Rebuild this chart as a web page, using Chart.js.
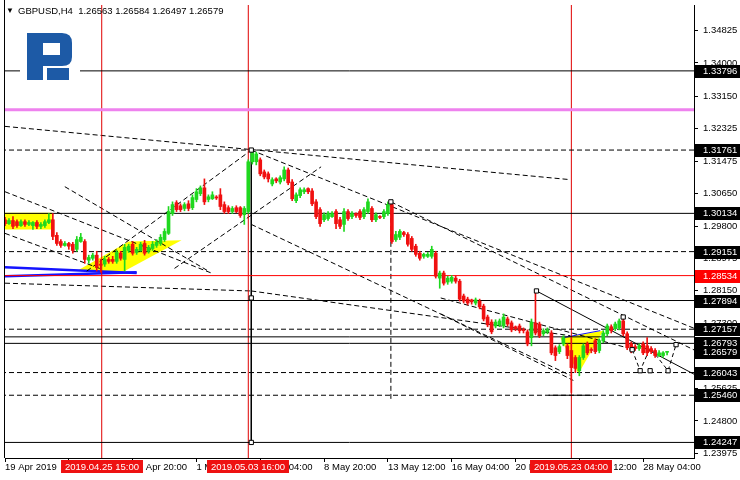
<!DOCTYPE html>
<html>
<head>
<meta charset="utf-8">
<style>
html, body { margin: 0; padding: 0; background: #fff; }
#wrap { width: 740px; height: 480px; }
</style>
<script src="https://cdn.jsdelivr.net/npm/chart.js@4/dist/chart.umd.min.js"></script>
</head>
<body>
<div id="wrap"><canvas id="myChart" width="740" height="480"></canvas></div>
<script>
// GBPUSD H4 candles, first bar = 19 Apr 2019 12:00
var opens = [
  1.2997,1.2987,1.2995,1.2992,1.2982,1.2992,1.2985,1.2982,1.2990,1.2980,
  1.2982,1.2990,1.2997,1.2957,1.2941,1.2931,1.2936,1.2934,1.2921,1.2941,
  1.2941,1.2893,1.2898,1.2906,1.2883,1.2883,1.2895,1.2895,1.2890,1.2911,
  1.2895,1.2918,1.2934,1.2913,1.2918,1.2936,1.2916,1.2923,1.2931,1.2936,
  1.2946,1.2962,1.3013,1.3041,1.3033,1.3026,1.3038,1.3028,1.3049,1.3064,
  1.3079,1.3049,1.3051,1.3054,1.3061,1.3036,1.3028,1.3018,1.3028,1.3028,
  1.3010,1.3018,1.3146,1.3146,1.3151,1.3120,1.3115,1.3089,1.3102,1.3094,
  1.3102,1.3125,1.3094,1.3046,1.3059,1.3069,1.3077,1.3071,1.3043,1.3023,
  1.2997,1.3000,1.3005,1.3018,1.2997,1.2985,1.3018,1.3005,1.3013,1.3018,
  1.3005,1.3018,1.3026,1.2997,1.3005,1.3005,1.3013,1.3036,1.2946,1.2952,
  1.2964,1.2959,1.2949,1.2929,1.2911,1.2903,1.2903,1.2903,1.2911,1.2847,
  1.2860,1.2837,1.2839,1.2847,1.2839,1.2801,1.2793,1.2791,1.2783,1.2788,
  1.2775,1.2747,1.2734,1.2724,1.2727,1.2724,1.2742,1.2732,1.2722,1.2724,
  1.2714,1.2709,1.2694,1.2732,1.2729,1.2704,1.2709,1.2706,1.2668,1.2658,
  1.2678,1.2673,1.2661,1.2643,1.2609,1.2643,1.2678,1.2663,1.2686,1.2661,
  1.2686,1.2704,1.2722,1.2717,1.2719,1.2737,1.2704,1.2678,1.2671,1.2666,
  1.2678,1.2673,1.2666,1.2661,1.2648,1.2648,1.26563
];
var highs = [
  1.3003,1.3000,1.3005,1.2997,1.2997,1.2997,1.2995,1.2992,1.2995,1.2990,
  1.2997,1.3013,1.3013,1.2964,1.2946,1.2941,1.2939,1.2939,1.2954,1.2962,
  1.2946,1.2906,1.2911,1.2916,1.2895,1.2903,1.2900,1.2903,1.2918,1.2916,
  1.2934,1.2934,1.2941,1.2926,1.2939,1.2944,1.2931,1.2941,1.2946,1.2959,
  1.2974,1.3031,1.3043,1.3046,1.3038,1.3041,1.3046,1.3061,1.3077,1.3084,
  1.3102,1.3061,1.3069,1.3059,1.3077,1.3043,1.3033,1.3031,1.3033,1.3031,
  1.3031,1.3151,1.3176,1.3171,1.3156,1.3125,1.3120,1.3105,1.3105,1.3110,
  1.3133,1.3130,1.3100,1.3066,1.3079,1.3079,1.3079,1.3077,1.3049,1.3028,
  1.3015,1.3018,1.3018,1.3023,1.3003,1.3026,1.3023,1.3018,1.3015,1.3023,
  1.3028,1.3051,1.3031,1.3015,1.3008,1.3023,1.3043,1.3046,1.2967,1.2972,
  1.2967,1.2964,1.2954,1.2934,1.2916,1.2911,1.2913,1.2929,1.2916,1.2865,
  1.2865,1.2852,1.2854,1.2852,1.2844,1.2806,1.2798,1.2793,1.2796,1.2793,
  1.2780,1.2752,1.2740,1.2740,1.2742,1.2755,1.2747,1.2737,1.2724,1.2729,
  1.2719,1.2714,1.2742,1.2814,1.2734,1.2717,1.2719,1.2712,1.2673,1.2676,
  1.2699,1.2678,1.2694,1.2648,1.2648,1.2678,1.2683,1.2668,1.2691,1.2691,
  1.2712,1.2729,1.2727,1.2734,1.2742,1.2745,1.2709,1.2683,1.2676,1.2678,
  1.2683,1.2694,1.2671,1.2666,1.2661,1.2658,1.26584
];
var lows = [
  1.2982,1.2985,1.2974,1.2977,1.2980,1.2980,1.2982,1.2972,1.2974,1.2974,
  1.2977,1.2987,1.2946,1.2931,1.2926,1.2929,1.2921,1.2911,1.2916,1.2939,
  1.2885,1.2885,1.2893,1.2865,1.2862,1.2877,1.2885,1.2885,1.2885,1.2893,
  1.2865,1.2913,1.2906,1.2908,1.2916,1.2906,1.2911,1.2918,1.2926,1.2931,
  1.2941,1.2959,1.3008,1.3018,1.3018,1.3020,1.3020,1.3023,1.3043,1.3059,
  1.3036,1.3043,1.3049,1.3049,1.3023,1.3013,1.3013,1.3013,1.3015,1.3003,
  1.2985,1.3013,1.3140,1.3138,1.3110,1.3102,1.3094,1.3084,1.3092,1.3089,
  1.3097,1.3087,1.3046,1.3041,1.3054,1.3064,1.3064,1.3033,1.3000,1.2980,
  1.2992,1.2995,1.3003,1.2974,1.2974,1.2967,1.2995,1.3000,1.3003,1.2997,
  1.3000,1.3013,1.2992,1.2992,1.3000,1.3000,1.3008,1.2936,1.2941,1.2946,
  1.2954,1.2929,1.2916,1.2903,1.2893,1.2898,1.2900,1.2898,1.2847,1.2821,
  1.2829,1.2831,1.2834,1.2834,1.2788,1.2783,1.2778,1.2780,1.2778,1.2768,
  1.2737,1.2722,1.2704,1.2719,1.2722,1.2719,1.2724,1.2709,1.2712,1.2706,
  1.2706,1.2673,1.2673,1.2701,1.2694,1.2699,1.2704,1.2650,1.2635,1.2653,
  1.2673,1.2640,1.2553,1.2604,1.2596,1.2638,1.2650,1.2655,1.2653,1.2655,
  1.2681,1.2699,1.2706,1.2712,1.2714,1.2699,1.2663,1.2655,1.2661,1.2661,
  1.2650,1.2648,1.2653,1.2643,1.2645,1.2643,1.26497
];
var closes = [
  1.2987,1.2995,1.2980,1.2982,1.2992,1.2985,1.2990,1.2990,1.2980,1.2985,
  1.2992,1.2997,1.2954,1.2936,1.2931,1.2936,1.2929,1.2918,1.2946,1.2952,
  1.2895,1.2900,1.2906,1.2875,1.2880,1.2895,1.2890,1.2890,1.2913,1.2898,
  1.2926,1.2929,1.2911,1.2921,1.2934,1.2911,1.2926,1.2934,1.2939,1.2952,
  1.2967,1.3018,1.3036,1.3023,1.3023,1.3036,1.3026,1.3054,1.3069,1.3079,
  1.3043,1.3056,1.3061,1.3053,1.3031,1.3018,1.3018,1.3026,1.3018,1.3008,
  1.3026,1.3146,1.3171,1.3166,1.3115,1.3107,1.3102,1.3100,1.3097,1.3105,
  1.3125,1.3092,1.3051,1.3061,1.3074,1.3074,1.3069,1.3038,1.3005,1.2987,
  1.3010,1.3013,1.3013,1.2987,1.2980,1.3018,1.3000,1.3013,1.3008,1.3003,
  1.3023,1.3043,1.2997,1.3010,1.3003,1.3018,1.3036,1.2941,1.2959,1.2967,
  1.2959,1.2934,1.2921,1.2908,1.2898,1.2908,1.2908,1.2921,1.2852,1.2860,
  1.2834,1.2847,1.2849,1.2839,1.2793,1.2788,1.2783,1.2786,1.2791,1.2773,
  1.2742,1.2727,1.2709,1.2734,1.2737,1.2747,1.2729,1.2714,1.2717,1.2712,
  1.2712,1.2678,1.2734,1.2706,1.2699,1.2712,1.2714,1.2655,1.2648,1.2671,
  1.2694,1.2648,1.2617,1.2615,1.2643,1.2673,1.2655,1.2661,1.2658,1.2686,
  1.2706,1.2724,1.2712,1.2729,1.2737,1.2704,1.2668,1.2661,1.2666,1.2673,
  1.2655,1.2655,1.2658,1.2648,1.2655,1.2655,1.26579
];

var symbolName = 'GBPUSD,H4';

// axis ticks
var yTicks = [1.34825, 1.34000, 1.33150, 1.32325, 1.31475, 1.30650, 1.29800,
              1.28975, 1.28150, 1.27300, 1.26475, 1.25625, 1.24800, 1.23975];
var xTickIdx = [0, 16, 32, 48, 64, 80, 96, 112, 128, 144, 160];
var xTickLabels = ['19 Apr 2019', '24 Apr 04:00', '26 Apr 20:00', '1 May 12:00', '6 May 04:00',
                   '8 May 20:00', '13 May 12:00', '16 May 04:00', '20 May 20:00', '23 May 12:00', '28 May 04:00'];

// horizontal levels
var solidLevels = [1.33796, 1.30134, 1.27894, 1.26960, 1.26793, 1.24247];
var dashedLevels = [1.31761, 1.29151, 1.27157, 1.26043, 1.25460];
var redLevel = 1.28534;
var violetLevel = 1.32800;
var boxedLevels = [1.33796, 1.31761, 1.30134, 1.29151, 1.27894, 1.27157, 1.26793, 1.26043, 1.25460, 1.24247];

// vertical lines (bar index) and their dates
var markIdx = [24.25, 61, 142];
var markDates = ['2019.04.25 15:00', '2019.05.03 16:00', '2019.05.23 04:00'];

// trend lines: [bar1, price1, bar2, price2]
var dashedTrends = [
  [0, 1.3237, 141.75, 1.3100],
  [61.75, 1.3176, 174.25, 1.2712],
  [96.75, 1.3043, 174.25, 1.2655],
  [61.75, 1.2985, 141.75, 1.2597],
  [0, 1.2834, 61.75, 1.2814],
  [61.75, 1.2814, 141.75, 1.2699],
  [20.5, 1.2865, 61.75, 1.3176],
  [42.5, 1.2872, 79.25, 1.3133],
  [0, 1.3069, 51.75, 1.2860],
  [0, 1.2962, 24.25, 1.2870],
  [15, 1.3082, 51, 1.2865],
  [109.25, 1.2796, 156, 1.2668],
  [109.25, 1.2755, 142.5, 1.2584],
  [96.75, 1.3043, 96.75, 1.2533]
];
var solidTrends = [
  [133.25, 1.2814, 174.25, 1.2592],
  [61.75, 1.31761, 61.75, 1.24247],
  [136.25, 1.2546, 147.25, 1.2546]
];
var blueTrends = [
  [0, 1.2875, 33, 1.2860],
  [0, 1.2852, 33, 1.2862],
  [140, 1.2694, 149.25, 1.2712]
];
var zigBars = [157.25, 159.25, 161.75, 166.25, 168.25];
var zigPrices = [1.2663, 1.2609, 1.2668, 1.2609, 1.2676];
var anchorBars = [61.75, 61.75, 61.75, 96.75, 133.25, 155, 157.25, 159.25, 161.75, 166.25, 168.25];
var anchorPrices = [1.31761, 1.2796, 1.24247, 1.3043, 1.2814, 1.2747, 1.2663, 1.2609, 1.2609, 1.2609, 1.2676];

// yellow zones
var zoneBars = [[0, 11.75, 11.75, 0], [18, 31, 44.25, 30], [139.25, 150, 143.75]];
var zonePrices = [[1.3015, 1.3015, 1.2972, 1.2972], [1.2865, 1.2941, 1.2944, 1.2865], [1.2694, 1.2712, 1.2601]];

var xMin = 0, xMax = 172.75, yMin = 1.23847, yMax = 1.35489;
var GREEN = '#1fd81f', RED = '#f01010';
var FONT = "'Liberation Sans', 'DejaVu Sans', sans-serif";
var FSIZE = 9.5;

function candleColor(c) {
  var i = c.dataIndex;
  return closes[i] >= opens[i] ? GREEN : RED;
}

function lineSet(points, color, width, dash) {
  return {
    type: 'line', data: points, borderColor: color, borderWidth: width,
    borderDash: dash || [], pointRadius: 0, fill: false, tension: 0, order: 5
  };
}

var datasets = [];
var wicks = [], bodies = [];
for (var i = 0; i < opens.length; i++) {
  wicks.push({x: i, y: [lows[i], highs[i]]});
  bodies.push({x: i, y: [opens[i], closes[i]]});
}

solidLevels.forEach(function (p) {
  datasets.push(lineSet([{x: xMin - 1, y: p}, {x: xMax + 1, y: p}], '#000', 1));
});
dashedLevels.forEach(function (p) {
  datasets.push(lineSet([{x: xMin - 1, y: p}, {x: xMax + 1, y: p}], '#000', 1, [5, 3]));
});
datasets.push(lineSet([{x: xMin - 1, y: redLevel}, {x: xMax + 1, y: redLevel}], '#ff0000', 1));
datasets.push(lineSet([{x: xMin - 1, y: violetLevel}, {x: xMax + 1, y: violetLevel}], '#ee82ee', 3));
markIdx.forEach(function (b) {
  datasets.push(lineSet([{x: b, y: yMin - 1}, {x: b, y: yMax + 1}], '#e00000', 1));
});
dashedTrends.forEach(function (t) {
  datasets.push(lineSet([{x: t[0], y: t[1]}, {x: t[2], y: t[3]}], '#000', 1, [5, 3]));
});
solidTrends.forEach(function (t) {
  datasets.push(lineSet([{x: t[0], y: t[1]}, {x: t[2], y: t[3]}], '#000', 1));
});
blueTrends.forEach(function (t, k) {
  datasets.push(lineSet([{x: t[0], y: t[1]}, {x: t[2], y: t[3]}], '#1414ff', k < 2 ? 2.5 : 1));
});
datasets.push(lineSet(zigBars.map(function (b, k) { return {x: b, y: zigPrices[k]}; }), '#000', 1, [4, 3]));

datasets.push({
  type: 'bar', data: wicks, backgroundColor: candleColor,
  barThickness: 1, grouped: false, order: 2
});
datasets.push({
  type: 'bar', data: bodies, backgroundColor: candleColor,
  barThickness: 3, minBarLength: 1, grouped: false, order: 1
});
datasets.push({
  type: 'line', showLine: false, order: 0,
  data: anchorBars.map(function (b, k) { return {x: b, y: anchorPrices[k]}; }),
  pointStyle: 'rect', pointRadius: 3, pointBackgroundColor: '#fff',
  pointBorderColor: '#000', pointBorderWidth: 1
});

var decor = {
  id: 'decor',
  beforeDraw: function (chart) {
    var ctx = chart.ctx;
    ctx.save();
    ctx.fillStyle = '#fff';
    ctx.fillRect(0, 0, chart.width, chart.height);
    ctx.restore();
  },
  beforeDatasetsDraw: function (chart) {
    var ctx = chart.ctx, xs = chart.scales.x, ys = chart.scales.y, a = chart.chartArea;
    ctx.save();
    ctx.beginPath();
    ctx.rect(a.left, a.top, a.right - a.left, a.bottom - a.top);
    ctx.clip();
    ctx.fillStyle = '#ffff00';
    zoneBars.forEach(function (bars, z) {
      ctx.beginPath();
      bars.forEach(function (b, k) {
        var px = xs.getPixelForValue(b), py = ys.getPixelForValue(zonePrices[z][k]);
        if (k === 0) ctx.moveTo(px, py); else ctx.lineTo(px, py);
      });
      ctx.closePath();
      ctx.fill();
    });
    ctx.restore();
  },
  afterDatasetsDraw: function (chart) {
    // R logo
    var ctx = chart.ctx;
    ctx.save();
    ctx.fillStyle = '#fff';
    ctx.fillRect(20, 28, 60, 56);
    ctx.fillStyle = '#1d5aa6';
    ctx.beginPath();
    ctx.moveTo(27, 33);
    ctx.lineTo(62, 33);
    ctx.quadraticCurveTo(72, 33, 72, 43);
    ctx.lineTo(72, 57);
    ctx.quadraticCurveTo(72, 66, 62, 66);
    ctx.lineTo(27, 66);
    ctx.closePath();
    ctx.rect(43, 43, 17, 12);
    ctx.fill('evenodd');
    ctx.fillRect(27, 33, 16, 47);
    ctx.fillRect(47, 68, 22, 12);
    ctx.restore();
  },
  afterDraw: function (chart) {
    var ctx = chart.ctx, xs = chart.scales.x, ys = chart.scales.y, a = chart.chartArea;
    var last = opens.length - 1;
    ctx.save();
    // left frame
    ctx.strokeStyle = '#000';
    ctx.lineWidth = 1;
    ctx.beginPath();
    ctx.moveTo(a.left - 0.5, 0);
    ctx.lineTo(a.left - 0.5, a.bottom);
    ctx.stroke();

    // header
    ctx.fillStyle = '#000';
    ctx.textBaseline = 'middle';
    ctx.font = '8px ' + FONT;
    ctx.fillText('\u25BC', 6, 11);
    ctx.font = FSIZE + 'px ' + FONT;
    ctx.fillText(symbolName + '  ' + opens[last].toFixed(5) + ' ' + highs[last].toFixed(5) + ' ' +
                 lows[last].toFixed(5) + ' ' + closes[last].toFixed(5), 18, 11);

    // price boxes on the right
    function box(p, bg) {
      var py = Math.round(ys.getPixelForValue(p));
      ctx.fillStyle = bg;
      ctx.fillRect(a.right + 1, py - 6, chart.width - a.right - 1, 13);
      ctx.fillStyle = '#fff';
      ctx.fillText(p.toFixed(5), a.right + 9, py + 0.5);
    }
    ctx.textAlign = 'left';
    boxedLevels.forEach(function (p) { box(p, '#000'); });
    box(closes[last], '#000');
    box(redLevel, '#ff0000');

    // date boxes at the bottom
    ctx.textAlign = 'center';
    markIdx.forEach(function (b, k) {
      var px = Math.round(xs.getPixelForValue(b));
      var w = ctx.measureText(markDates[k]).width + 8;
      ctx.fillStyle = '#ee1111';
      ctx.fillRect(px - w / 2, a.bottom + 2, w, 13);
      ctx.fillStyle = '#fff';
      ctx.fillText(markDates[k], px, a.bottom + 9);
    });
    ctx.restore();
  }
};

var chart = new Chart(document.getElementById('myChart').getContext('2d'), {
  type: 'bar',
  data: {datasets: datasets},
  options: {
    responsive: false,
    animation: false,
    devicePixelRatio: 1,
    events: [],
    layout: {padding: {left: 3, top: 2, right: 0, bottom: 0}},
    plugins: {legend: {display: false}, tooltip: {enabled: false}},
    scales: {
      x: {
        type: 'linear', min: xMin, max: xMax, offset: false,
        grid: {drawOnChartArea: false, drawTicks: true, tickLength: 4, color: '#000', offset: false},
        border: {display: true, color: '#000'},
        afterBuildTicks: function (s) { s.ticks = xTickIdx.map(function (v) { return {value: v}; }); },
        afterFit: function (s) { s.height = 22; s.paddingLeft = 0; s.paddingRight = 0; },
        ticks: {
          autoSkip: false, maxRotation: 0, minRotation: 0, align: 'start', padding: 0,
          color: '#000', font: {family: FONT, size: FSIZE},
          callback: function (v, i) { return xTickLabels[i]; }
        }
      },
      y: {
        type: 'linear', position: 'right', min: yMin, max: yMax,
        grid: {drawOnChartArea: false, tickLength: 4, color: '#000'},
        border: {display: true, color: '#000'},
        afterBuildTicks: function (s) { s.ticks = yTicks.map(function (v) { return {value: v}; }); },
        afterFit: function (s) { s.width = 46; s.paddingTop = 0; s.paddingBottom = 0; },
        ticks: {
          padding: 5, color: '#000', font: {family: FONT, size: FSIZE},
          callback: function (v) { return Number(v).toFixed(5); }
        }
      }
    }
  },
  plugins: [decor]
});
</script>
</body>
</html>
